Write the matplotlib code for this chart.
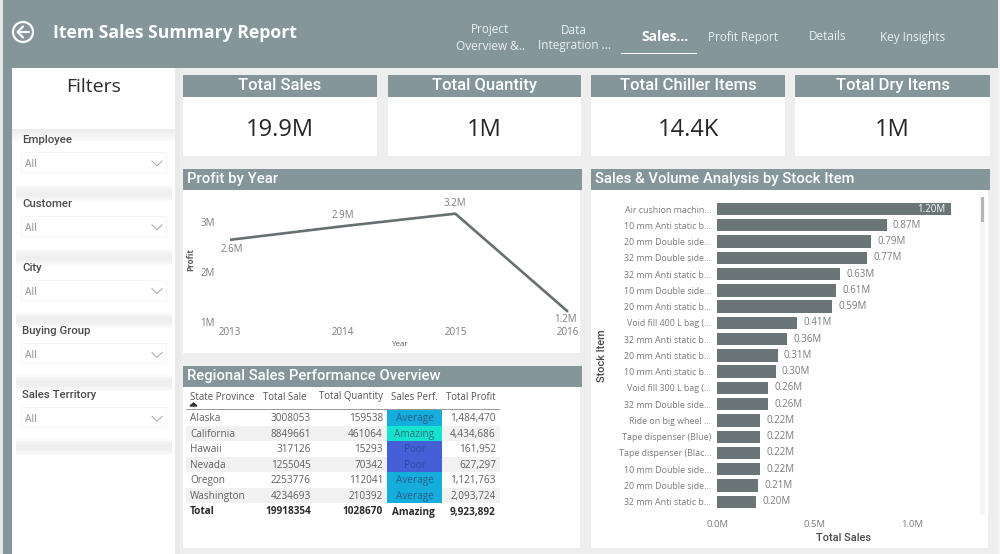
import matplotlib
matplotlib.use("Agg")
import matplotlib.pyplot as plt
from matplotlib.patches import Rectangle, Circle

# ---------- data ----------
years = [2013, 2014, 2015, 2016]
profit_m = [2.64, 2.91, 3.16, 1.21]
profit_labels = ["2.6M", "2.9M", "3.2M", "1.2M"]

stock_items = ["Air cushion machin...", "10 mm Anti static b...", "20 mm Double side...",
               "32 mm Double side...", "32 mm Anti static b...", "10 mm Double side...",
               "20 mm Anti static b...", "Void fill 400 L bag (...", "32 mm Anti static b...",
               "20 mm Anti static b...", "10 mm Anti static b...", "Void fill 300 L bag (...",
               "32 mm Double side...", "Ride on big wheel ...", "Tape dispenser (Blue)",
               "Tape dispenser (Blac...", "10 mm Double side...", "20 mm Double side...",
               "32 mm Anti static b..."]
stock_sales = [1.20, 0.87, 0.79, 0.77, 0.63, 0.61, 0.59, 0.41, 0.36, 0.31,
               0.30, 0.26, 0.26, 0.22, 0.22, 0.22, 0.22, 0.21, 0.20]

states = ["Alaska", "California", "Hawaii", "Nevada", "Oregon", "Washington"]
state_sales = ["3008053", "8849661", "317126", "1255045", "2253776", "4234693"]
state_qty = ["159538", "461064", "15293", "70342", "112041", "210392"]
state_perf = ["Average", "Amazing", "Poor", "Poor", "Average", "Average"]
state_profit = ["1,484,470", "4,434,686", "161,952", "627,297", "1,121,763", "2,093,724"]
total_row = ["Total", "19918354", "1028670", "Amazing", "9,923,892"]
table_headers = ["State Province", "Total Sale", "Total Quantity", "Sales Perf.", "Total Profit"]

kpi_titles = ["Total Sales", "Total Quantity", "Total Chiller Items", "Total Dry Items"]
kpi_values = ["19.9M", "1M", "14.4K", "1M"]
filter_names = ["Employee", "Customer", "City", "Buying Group", "Sales Territory"]

# ---------- style ----------
W, H = 1000, 554
TEAL = "#84969A"
BAR = "#697576"
GREY = "#7B7B7B"
DARK = "#3A3A3A"
DIN = "Roboto"
SEGOE = "Open Sans"
PERF_COLORS = {"Average": "#14ADDC", "Amazing": "#14E4CF", "Poor": "#4560D6"}
PERF_TEXT = {"Average": "#2C5F88", "Amazing": "#2C6F78", "Poor": "#2B4A9C"}

fig = plt.figure(figsize=(W / 100, H / 100), dpi=100, facecolor="#EEEEEE")
bg = fig.add_axes([0, 0, 1, 1], zorder=0)
bg.set_xlim(0, W)
bg.set_ylim(H, 0)
bg.axis("off")


def box(x0, y0, x1, y1, color, alpha=1.0, z=1):
    bg.add_patch(Rectangle((x0, y0), x1 - x0, y1 - y0, facecolor=color, edgecolor="none", alpha=alpha, zorder=z))


def txt(x, y, s, size, color=DARK, ha="left", weight="normal", family=DIN):
    bg.text(x, y, s, fontsize=size, color=color, ha=ha, va="center", fontweight=weight, family=family, zorder=6)


def axes_px(x0, y0, x1, y1):
    ax = fig.add_axes([x0 / W, 1 - y1 / H, (x1 - x0) / W, (y1 - y0) / H], zorder=2)
    ax.patch.set_alpha(0)
    return ax


# page frame
box(0, 0, 3, H, "#E4E8E8")
box(3, 0, 12, H, TEAL)
box(3, 0, 998, 68, TEAL)
box(998, 0, W, H, "#F4F4F4")

# header
bg.add_patch(Circle((23, 32), 10, facecolor="none", edgecolor="white", lw=1.6, zorder=5))
bg.plot([17.5, 29], [32, 32], color="white", lw=1.6, zorder=5, solid_capstyle="round")
bg.plot([23, 17.5, 23], [26.5, 32, 37.5], color="white", lw=1.6, zorder=5, solid_capstyle="round")
txt(53, 33, "Item Sales Summary Report", 12.7, "white", weight="bold", family=SEGOE)
tab_c = "#EDF0F0"
for x, y, s in [(490, 30, "Project"), (490, 46, "Overview &.."), (574, 30, "Data"), (574, 46, "Integration ..."),
                (743, 37, "Profit Report"), (828, 37, "Details"), (913, 37, "Key Insights")]:
    txt(x, y, s, 8.5, tab_c, ha="center", family=SEGOE)
txt(665, 37, "Sales...", 10, "white", ha="center", weight="bold", family=SEGOE)
box(621, 52.5, 697, 54, "white", z=5)

# filter panel
box(12, 68, 175, H, "white")
box(175, 68, 180, H, "#E2E2E2", alpha=0.35)
txt(94, 86.5, "Filters", 14, "#2B2B2B", ha="center", family=SEGOE)
for i in range(6):
    box(12, 129 + i * 2, 175, 131 + i * 2, "#D5D5D5", alpha=0.45 - i * 0.07, z=2)
for yc in [193, 257, 320, 383, 447]:
    for i in range(5):
        box(16, yc - 8 + i * 1.5, 172, yc + 8 - i * 1.5, "#E6E6E6", alpha=0.16, z=2)
for i, name in enumerate(filter_names):
    y = 140 + i * 63.8
    txt(22, y, name, 8.2, "#4A4A4A", weight="medium")
    bg.add_patch(Rectangle((21, y + 12), 145, 20, facecolor="white", edgecolor="#F6F6F6", lw=0.7, zorder=3))
    txt(25, y + 24.5, "All", 7.4, "#8A8A8A", family=SEGOE)
    bg.plot([152, 157, 162], [y + 21, y + 26, y + 21], color="#A8A8A8", lw=0.7, zorder=5)

# KPI cards
card_x = [(183, 377), (388, 581), (591, 785), (795, 990)]
for (x0, x1), title, value in zip(card_x, kpi_titles, kpi_values):
    box(x0, 97, x1, 156, "white")
    box(x0, 75, x1, 97, TEAL)
    txt((x0 + x1) / 2, 85.5, title, 12, "white", ha="center", weight="medium")
    txt((x0 + x1) / 2, 130, value, 17, "#252525", ha="center", family=SEGOE)

# section panels
panels = [(183, 169, 582, 190, 353, "Profit by Year"),
          (183, 366, 582, 387, 548, "Regional Sales Performance Overview"),
          (591, 169, 990, 190, 548, "Sales & Volume Analysis by Stock Item")]
for x0, y0, x1, y1, y2, title in panels:
    box(x0, y1, x1 - 2, y2, "white")
    box(x0, y0, x1, y1, TEAL)
    txt(x0 + 4, (y0 + y1) / 2 - 0.5, title, 10.7, "white", weight="medium")

# line chart
ax = axes_px(230, 201.6, 568, 322.3)
ax.plot(years, profit_m, color="#667071", lw=1.9, clip_on=False, solid_capstyle="butt")
ax.set_xlim(2013, 2016)
ax.set_ylim(1, 3.4)
ax.set_xticks(years, [str(v) for v in years])
ax.set_yticks([1, 2, 3], ["1M", "2M", "3M"])
ax.tick_params(axis="both", length=0, labelsize=7, labelcolor=GREY)
ax.tick_params(axis="x", pad=3.5)
ax.tick_params(axis="y", pad=11)
for lab in ax.get_xticklabels() + ax.get_yticklabels():
    lab.set_family(SEGOE)
for side in ax.spines.values():
    side.set_visible(False)
for yr, v, lab, off in zip(years, profit_m, profit_labels, [(2, -10), (0, 10.5), (0, 10.5), (-3, -7.5)]):
    ax.annotate(lab, (yr, v), xytext=off, textcoords="offset pixels", ha="center", va="center",
                fontsize=7, color=GREY, family=SEGOE, annotation_clip=False)
txt(399, 344.5, "Year", 5.8, "#5A5A5A", ha="center", weight="medium", family=SEGOE)
bg.text(191, 260, "Profit", fontsize=5.8, color="#5A5A5A", rotation=90, ha="center", va="center",
        fontweight="bold", family=SEGOE, zorder=6)

# table
heads_x = [190, 263, 319, 391, 446]
for x, s in zip(heads_x, table_headers):
    txt(x, 397, s, 6.9, "#555555", family=SEGOE)
bg.fill([190, 193.5, 197], [406, 403, 406], color="#333333", zorder=6)
box(186, 409, 500, 409.8, "#9A9A9A", z=5)
box(258.5, 410, 259.3, 518, "#8A8A8A", z=5)
row_h = 15.5
for i, (st, sa, qt, pe, pr) in enumerate(zip(states, state_sales, state_qty, state_perf, state_profit)):
    yt = 410 + i * row_h
    yc = yt + row_h / 2 + 1.2
    if i % 2 == 1:
        box(186, yt, 500, yt + row_h, "#F1F1F1", z=2)
    box(387, yt, 442, yt + row_h, PERF_COLORS[pe], z=3)
    txt(190, yc, st, 7.2, "#5F5F5F", family=SEGOE)
    txt(311, yc, sa, 7.2, "#5F5F5F", ha="right", family=SEGOE)
    txt(383, yc, qt, 7.2, "#5F5F5F", ha="right", family=SEGOE)
    txt(414.5, yc, pe, 7.2, PERF_TEXT[pe], ha="center", family=SEGOE)
    txt(496, yc, pr, 7.2, "#5F5F5F", ha="right", family=SEGOE)
txt(190, 512, total_row[0], 7.2, "#2A2A2A", weight="bold", family=SEGOE)
txt(311, 512, total_row[1], 7.2, "#2A2A2A", ha="right", weight="bold", family=SEGOE)
txt(383, 512, total_row[2], 7.2, "#2A2A2A", ha="right", weight="bold", family=SEGOE)
txt(391.5, 512, total_row[3], 7.2, "#2A2A2A", weight="bold", family=SEGOE)
txt(496, 512, total_row[4], 7.2, "#2A2A2A", ha="right", weight="bold", family=SEGOE)

# bar chart
bx = axes_px(717.3, 200.9, 975, 509.9)
pos = list(range(len(stock_items)))
bx.barh(pos, stock_sales, height=0.76, color=BAR)
bx.set_xlim(0, (975 - 717.3) / 194.7)
bx.set_ylim(len(stock_items) - 0.5, -0.5)
bx.set_yticks(pos, stock_items)
bx.set_xticks([0, 0.5, 1.0], ["0.0M", "0.5M", "1.0M"])
bx.tick_params(axis="both", length=0, labelcolor=GREY)
bx.tick_params(axis="y", pad=4.5, labelsize=6.4)
bx.tick_params(axis="x", pad=7.5, labelsize=6.8)
for lab in bx.get_xticklabels() + bx.get_yticklabels():
    lab.set_family(SEGOE)
for side in bx.spines.values():
    side.set_visible(False)
for p, v in zip(pos, stock_sales):
    if v >= 1.0:
        bx.text(v - 0.03, p, f"{v:.2f}M", ha="right", va="center", fontsize=7, color="white", family=SEGOE)
    else:
        bx.text(v + 0.032, p, f"{v:.2f}M", ha="left", va="center", fontsize=7, color=GREY, family=SEGOE)
txt(843, 538, "Total Sales", 7.9, "#4A4A4A", ha="center", weight="medium")
bg.text(602, 356, "Stock Item", fontsize=7.9, color="#4A4A4A", rotation=90, ha="center", va="center",
        fontweight="medium", family=DIN, zorder=6)
box(980, 197, 985, 515, "#F5F5F5", z=3)
box(980.5, 197, 984, 222, "#B5B5B5", z=4)

fig.savefig("out.png", dpi=100, facecolor=fig.get_facecolor())
